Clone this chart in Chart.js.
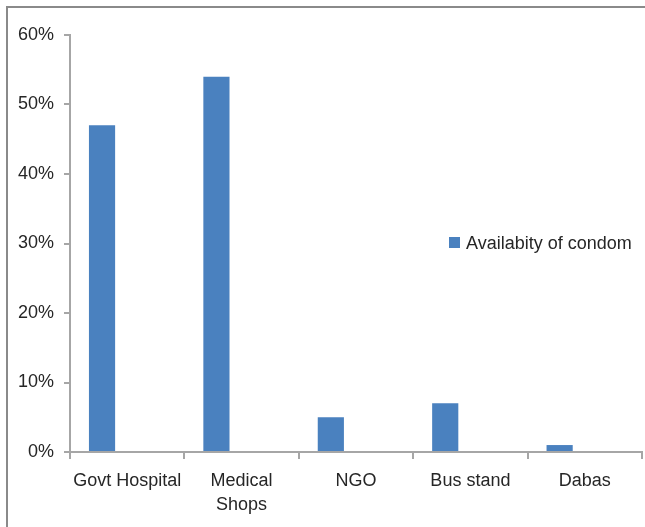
<!DOCTYPE html>
<html>
<head>
<meta charset="utf-8">
<script src="https://cdn.jsdelivr.net/npm/chart.js@4"></script>
<style>
  html, body { margin: 0; padding: 0; background: #fff; overflow: hidden; }
  #frame {
    position: absolute; left: 6px; top: 6px; width: 639px; height: 521px;
    border-left: 2px solid #8a8a8a; border-top: 2px solid #8a8a8a;
  }
  #wrap { width: 637px; height: 519px; }
</style>
</head>
<body>
<div id="frame"><div id="wrap"><canvas id="chart"></canvas></div></div>
<script>
const categories = ['Govt Hospital', ['Medical', 'Shops'], 'NGO', 'Bus stand', 'Dabas'];
const availability = [47, 54, 5, 7, 1];
const seriesName = 'Availabity of condom';
const yTicks = [0, 10, 20, 30, 40, 50, 60];

const textColor = '#262626';
const axisColor = '#a6a6a6';
const barColor = '#4a81bf';
const font = { family: 'Liberation Sans, Arial, sans-serif', size: 18 };

// legend sits inside the plot on the right, like the Excel original
const insideLegend = {
    id: 'insideLegend',
    afterDraw(chart) {
        const ctx = chart.ctx;
        const ds = chart.data.datasets[0];
        const x = 441, y = 229;
        ctx.save();
        ctx.fillStyle = ds.backgroundColor;
        ctx.fillRect(x, y, 11, 11);
        ctx.fillStyle = textColor;
        ctx.font = `${font.size}px ${font.family}`;
        ctx.textBaseline = 'middle';
        ctx.fillText(ds.label, x + 17, y + 7);
        ctx.restore();
    }
};

const ctx = document.getElementById('chart').getContext('2d');

new Chart(ctx, {
    type: 'bar',
    data: {
        labels: categories,
        datasets: [
            {
                label: seriesName,
                data: availability,
                backgroundColor: barColor,
                categoryPercentage: 0.88,
                barPercentage: 0.52
            },
            {
                label: '',
                data: categories.map(() => null),
                backgroundColor: 'transparent',
                categoryPercentage: 0.88,
                barPercentage: 0.52
            }
        ]
    },
    options: {
        responsive: true,
        maintainAspectRatio: false,
        animation: false,
        layout: { padding: { top: 27, right: 3, left: 0, bottom: 0 } },
        plugins: {
            legend: { display: false },
            tooltip: { enabled: false }
        },
        scales: {
            x: {
                grid: {
                    offset: true,
                    drawOnChartArea: false,
                    color: axisColor,
                    tickLength: 7,
                    lineWidth: 2
                },
                border: { color: axisColor, width: 2 },
                ticks: {
                    color: textColor,
                    font: { ...font, lineHeight: 1.33 },
                    padding: 10,
                    maxRotation: 0,
                    autoSkip: false
                },
                afterFit: scale => { scale.height = 75; }
            },
            y: {
                min: 0,
                max: 60,
                afterBuildTicks: scale => { scale.ticks = yTicks.map(v => ({ value: v })); },
                grid: {
                    drawOnChartArea: false,
                    color: axisColor,
                    tickLength: 6,
                    lineWidth: 2
                },
                border: { color: axisColor, width: 2 },
                ticks: {
                    color: textColor,
                    font: font,
                    padding: 10,
                    callback: value => `${value}%`
                },
                afterFit: scale => { scale.width = 62; }
            }
        }
    },
    plugins: [insideLegend]
});
</script>
</body>
</html>
